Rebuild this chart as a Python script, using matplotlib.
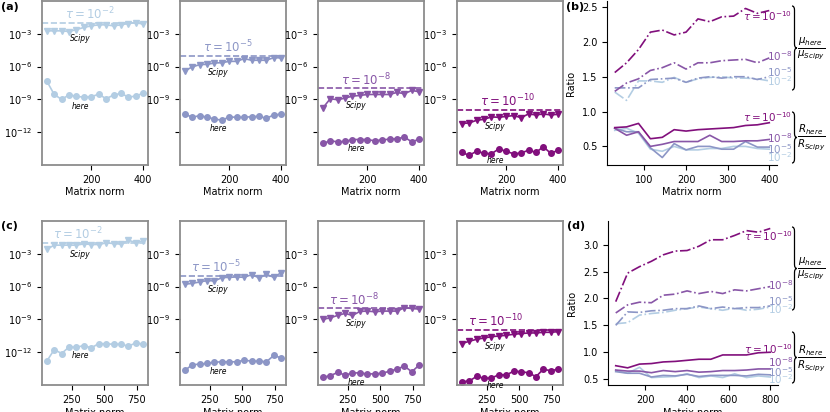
import numpy as np
import matplotlib
matplotlib.use('Agg')
import matplotlib.pyplot as plt
import matplotlib.transforms as mtransforms
from matplotlib.path import Path
from matplotlib.patches import PathPatch

# matrix norms (x values)
norm_top = [28.6, 57.1, 85.7, 114.3, 142.9, 171.4, 200.0, 228.6, 257.1, 285.7, 314.3, 342.9, 371.4, 400.0]
norm_bot = [57.1, 114.3, 171.4, 228.6, 285.7, 342.9, 400.0, 457.1, 514.3, 571.4, 628.6, 685.7, 742.9, 800.0]

tau_exp = [-2, -5, -8, -10]
colors = ['#b3cde3', '#8c96c6', '#8856a7', '#810f7c']

# log10(relative error), top row (a)
scipy_top = [
    [-2.73, -2.73, -2.73, -2.79, -2.61, -2.42, -2.27, -2.18, -2.18, -2.27, -2.18, -2.06, -1.97, -2.12],
    [-6.39, -6.03, -5.82, -5.79, -5.67, -5.64, -5.52, -5.52, -5.27, -5.42, -5.42, -5.42, -5.18, -5.21],
    [-9.79, -8.94, -9.03, -8.88, -8.70, -8.64, -8.55, -8.55, -8.55, -8.55, -8.36, -8.48, -8.18, -8.30],
    [-11.21, -11.15, -10.91, -10.82, -10.60, -10.64, -10.55, -10.48, -10.67, -10.33, -10.42, -10.33, -10.42, -10.36],
]
here_top = [
    [-7.33, -8.55, -9.00, -8.58, -8.73, -8.79, -8.76, -8.52, -8.94, -8.60, -8.45, -8.79, -8.70, -8.42],
    [-10.33, -10.64, -10.48, -10.64, -10.79, -10.91, -10.60, -10.64, -10.64, -10.58, -10.55, -10.73, -10.42, -10.36],
    [-13.03, -12.79, -12.88, -12.85, -12.67, -12.67, -12.67, -12.79, -12.70, -12.64, -12.60, -12.45, -12.88, -12.64],
    [-13.85, -14.12, -13.73, -13.94, -13.97, -13.52, -13.76, -13.97, -13.91, -13.64, -13.85, -13.33, -13.94, -13.64],
]
# log10(relative error), bottom row (c)
scipy_bot = [
    [-2.58, -2.21, -2.21, -2.21, -2.21, -2.09, -2.15, -2.15, -2.00, -2.06, -2.12, -1.76, -1.97, -1.82],
    [-5.79, -5.70, -5.58, -5.45, -5.48, -5.18, -5.15, -5.12, -5.15, -4.91, -5.18, -4.88, -5.15, -4.73],
    [-9.00, -8.85, -8.64, -8.45, -8.64, -8.27, -8.24, -8.30, -8.24, -8.24, -8.24, -7.94, -8.00, -8.06],
    [-11.21, -11.00, -10.82, -10.70, -10.58, -10.52, -10.45, -10.36, -10.30, -10.24, -10.24, -10.18, -10.18, -10.12],
]
here_bot = [
    [-12.82, -11.76, -12.12, -11.52, -11.55, -11.39, -11.61, -11.21, -11.24, -11.27, -11.27, -11.45, -11.15, -11.27],
    [-13.67, -13.15, -13.09, -13.03, -12.91, -12.88, -12.88, -12.88, -12.73, -12.82, -12.82, -12.88, -12.30, -12.52],
    [-14.30, -14.15, -13.85, -14.09, -13.91, -13.88, -14.00, -13.97, -13.94, -13.73, -13.55, -13.27, -13.79, -13.18],
    [-14.70, -14.64, -14.21, -14.39, -14.36, -14.06, -14.09, -13.73, -13.79, -13.88, -14.24, -13.55, -13.70, -13.55],
]

# ratios, panel (b)
mu_top = [
    [1.28, 1.16, 1.44, 1.44, 1.42, 1.49, 1.42, 1.47, 1.49, 1.50, 1.48, 1.48, 1.47, 1.44],
    [1.34, 1.34, 1.34, 1.46, 1.47, 1.48, 1.42, 1.48, 1.50, 1.48, 1.50, 1.50, 1.46, 1.50],
    [1.29, 1.41, 1.47, 1.59, 1.63, 1.70, 1.61, 1.70, 1.70, 1.73, 1.74, 1.75, 1.70, 1.77],
    [1.56, 1.70, 1.89, 2.14, 2.17, 2.10, 2.14, 2.33, 2.29, 2.36, 2.37, 2.48, 2.41, 2.45],
]
r_top = [
    [0.73, 0.76, 0.69, 0.46, 0.43, 0.50, 0.45, 0.45, 0.47, 0.47, 0.50, 0.50, 0.47, 0.46],
    [0.76, 0.71, 0.71, 0.48, 0.34, 0.54, 0.45, 0.50, 0.50, 0.46, 0.46, 0.57, 0.49, 0.49],
    [0.76, 0.66, 0.71, 0.50, 0.53, 0.57, 0.57, 0.57, 0.66, 0.57, 0.57, 0.58, 0.58, 0.60],
    [0.77, 0.78, 0.83, 0.61, 0.63, 0.74, 0.72, 0.74, 0.75, 0.76, 0.77, 0.80, 0.81, 0.84],
]
# ratios, panel (d)
mu_bot = [
    [1.53, 1.55, 1.69, 1.72, 1.74, 1.78, 1.81, 1.84, 1.81, 1.78, 1.82, 1.78, 1.80, 1.84],
    [1.50, 1.75, 1.74, 1.77, 1.78, 1.81, 1.81, 1.86, 1.81, 1.84, 1.81, 1.83, 1.83, 1.86],
    [1.73, 1.88, 1.93, 1.92, 2.06, 2.08, 2.14, 2.09, 2.13, 2.09, 2.16, 2.14, 2.18, 2.22],
    [1.94, 2.47, 2.59, 2.69, 2.81, 2.88, 2.89, 2.97, 3.09, 3.09, 3.17, 3.26, 3.23, 3.30],
]
r_bot = [
    [0.66, 0.61, 0.72, 0.53, 0.54, 0.55, 0.60, 0.53, 0.56, 0.53, 0.60, 0.53, 0.56, 0.54],
    [0.64, 0.61, 0.61, 0.54, 0.57, 0.56, 0.59, 0.55, 0.57, 0.57, 0.57, 0.56, 0.59, 0.58],
    [0.67, 0.65, 0.65, 0.62, 0.66, 0.64, 0.66, 0.63, 0.64, 0.66, 0.66, 0.67, 0.69, 0.69],
    [0.75, 0.71, 0.78, 0.79, 0.82, 0.83, 0.85, 0.87, 0.87, 0.95, 0.95, 0.95, 0.99, 1.00],
]

# where the tau labels sit next to the ratio curves
lab_mu_top = [1.44, 1.56, 1.80, 2.37]
lab_r_top = [0.35, 0.46, 0.62, 0.92]
lab_mu_bot = [1.81, 1.95, 2.24, 3.16]
lab_r_bot = [0.50, 0.64, 0.81, 1.05]

plt.rcParams['font.size'] = 7

W, H = 830, 412
fig = plt.figure(figsize=(W / 100, H / 100), dpi=100)


def rect(l, t, w, h):
    return [l / W, 1 - (t + h) / H, w / W, h / H]


def brace(x, ytop, ybot, w=5, r=4):
    # curly brace in pixel coords, opening to the left
    ym = (ytop + ybot) / 2
    pts = [(x, ytop), (x + w / 2, ytop), (x + w / 2, ytop + r), (x + w / 2, ym - r),
           (x + w / 2, ym), (x + w, ym), (x + w / 2, ym), (x + w / 2, ym + r),
           (x + w / 2, ybot - r), (x + w / 2, ybot), (x, ybot)]
    pts = [(px / W, 1 - py / H) for px, py in pts]
    codes = [Path.MOVETO, Path.CURVE3, Path.CURVE3, Path.LINETO, Path.CURVE3, Path.CURVE3,
             Path.CURVE3, Path.CURVE3, Path.LINETO, Path.CURVE3, Path.CURVE3]
    fig.add_artist(PathPatch(Path(pts, codes), transform=fig.transFigure,
                             fill=False, lw=0.9, color='k'))


def err_panel(ax, x, sc, he, k, first, tx, xticks):
    c = colors[k]
    tau = 10.0 ** tau_exp[k]
    ax.set_yscale('log')
    ax.axhline(tau, color=c, ls='--', lw=1.2)
    ax.plot(x, 10.0 ** np.array(sc), color=c, marker='v', ms=4, lw=1.2)
    ax.plot(x, 10.0 ** np.array(he), color=c, marker='o', ms=4, lw=1.2)
    ax.set_ylim(1e-15, 1)
    ax.set_yticks([1e-3, 1e-6, 1e-9, 1e-12])
    ax.minorticks_off()
    if not first:
        ax.set_yticklabels([r'$10^{-3}$', r'$10^{-6}$', r'$10^{-9}$', ''])
    else:
        ax.set_ylabel('Relative error', labelpad=2)
    ax.set_xticks(xticks)
    ax.set_xlabel('Matrix norm', labelpad=2)
    for sp in ax.spines.values():
        sp.set_color('0.55')
        sp.set_linewidth(1.3)
    trans = mtransforms.blended_transform_factory(ax.transAxes, ax.transData)
    ax.text(tx, tau * 1.15, r'$\tau = 10^{%d}$' % tau_exp[k], transform=trans,
            color=c, fontsize=8.5, va='bottom', ha='left')
    xm = (x[4] + x[5]) / 2
    ys = 10.0 ** ((sc[4] + sc[5]) / 2 - 0.9)
    yh = 10.0 ** ((he[4] + he[5]) / 2 - 0.85)
    ax.text(xm, ys, 'Scipy', fontsize=5.5, style='italic', ha='center', va='center')
    ax.text(xm, yh, 'here', fontsize=5.5, style='italic', ha='center', va='center', clip_on=False)


def ratio_panel(ax, x, mu, r, lmu, lr, xticks, yticks):
    for k in range(4):
        ax.plot(x, mu[k], color=colors[k], ls='-.', lw=1.2)
        ax.plot(x, r[k], color=colors[k], ls='-', lw=1.2)
    ax.set_xticks(xticks)
    ax.set_yticks(yticks)
    ax.spines['top'].set_visible(False)
    ax.spines['right'].set_visible(False)
    ax.set_xlabel('Matrix norm', labelpad=2)
    ax.set_ylabel('Ratio')
    trans = mtransforms.blended_transform_factory(ax.transAxes, ax.transData)
    for k in range(4):
        s = r'$\tau = 10^{%d}$' % tau_exp[k] if k == 3 else r'$10^{%d}$' % tau_exp[k]
        for yy in (lmu[k], lr[k]):
            ax.text(1.09, yy, s, transform=trans, color=colors[k], fontsize=7.5,
                    ha='right', va='center', clip_on=False)


col_left = [42, 180, 318, 457]
rows = [(1, norm_top, scipy_top, here_top, 0.22, [200, 400]),
        (221, norm_bot, scipy_bot, here_bot, 0.10, [250, 500, 750])]
for top, x, sc, he, tx, xt in rows:
    for k in range(4):
        ax = fig.add_axes(rect(col_left[k], top, 106, 164))
        err_panel(ax, x, sc[k], he[k], k, k == 0, tx, xt)

axb = fig.add_axes(rect(607, 1, 170, 164))
ratio_panel(axb, norm_top, mu_top, r_top, lab_mu_top, lab_r_top,
            [100, 200, 300, 400], [0.5, 1.0, 1.5, 2.0, 2.5])
axd = fig.add_axes(rect(608, 221, 170, 164))
ratio_panel(axd, norm_bot, mu_bot, r_bot, lab_mu_bot, lab_r_bot,
            [200, 400, 600, 800], [0.5, 1.0, 1.5, 2.0, 2.5, 3.0])

# braces and ratio labels
for y0, y1, ym, lab in [(6, 90, 48, r'$\frac{\mu_{here}}{\mu_{Scipy}}$'),
                        (112, 163, 137, r'$\frac{R_{here}}{R_{Scipy}}$'),
                        (227, 310, 268, r'$\frac{\mu_{here}}{\mu_{Scipy}}$'),
                        (332, 383, 358, r'$\frac{R_{here}}{R_{Scipy}}$')]:
    brace(792, y0, y1)
    fig.text(797 / W, 1 - ym / H, lab, fontsize=10.5, ha='left', va='center')

for lab, px, py in [('(a)', 1, 7), ('(b)', 566, 7), ('(c)', 1, 226), ('(d)', 567, 226)]:
    fig.text(px / W, 1 - py / H, lab, fontsize=8, fontweight='bold', ha='left', va='center')

fig.savefig('out.png', dpi=100)
